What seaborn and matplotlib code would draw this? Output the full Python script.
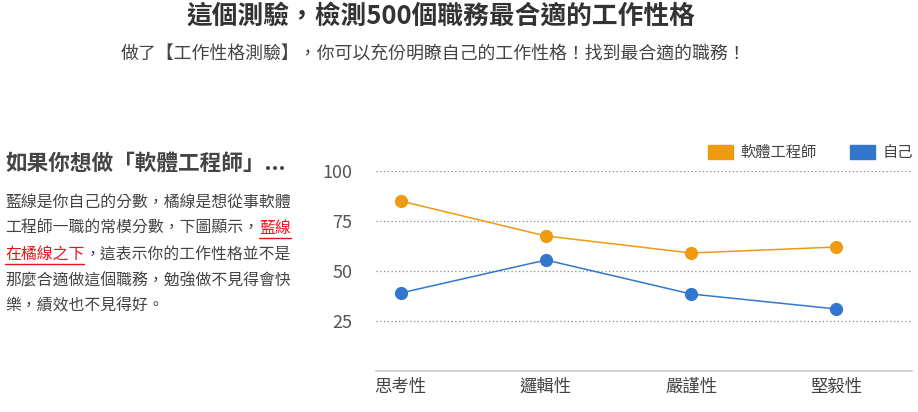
import numpy as np
import pandas as pd
import matplotlib
matplotlib.use('Agg')
import matplotlib.pyplot as plt
import seaborn as sns
from matplotlib.patches import Patch
from matplotlib.lines import Line2D

# data
traits = ['思考性', '邏輯性', '嚴謹性', '堅毅性']
engineer = [85, 67.5, 59, 62]
me = [39, 55.5, 38.5, 31]
series_names = ['軟體工程師', '自己']
yticks = [25, 50, 75, 100]

main_title = '這個測驗，檢測500個職務最合適的工作性格'
sub_title = '做了【工作性格測驗】，你可以充份明瞭自己的工作性格！找到最合適的職務！'
side_title = '如果你想做「軟體工程師」...'

ORANGE = '#ef9b10'
BLUE = '#3377cc'
RED = '#e8141c'
TXT = '#444444'

sns.set_theme(style='white')
plt.rcParams['font.family'] = ['Noto Sans CJK TC', 'DejaVu Sans']

df = pd.DataFrame({
    'trait': traits * 2,
    'score': engineer + me,
    'who': [series_names[0]] * 4 + [series_names[1]] * 4,
})

W, H = 918, 412
fig = plt.figure(figsize=(W / 100, H / 100), dpi=100)
ax = fig.add_axes([376 / W, 1 - 371 / H, (912 - 376) / W, (371 - 171) / H])

sns.lineplot(data=df, x='trait', y='score', hue='who', sort=False,
             palette=[ORANGE, BLUE], marker='o', markersize=9.5,
             markeredgewidth=0, linewidth=1.1, legend=False, ax=ax)
for ln in ax.lines:
    ln.set_clip_on(False)

ax.set_ylim(0, 100)
ax.set_xlim(-0.17, 3.52)
ax.set_yticks(yticks)
ax.set_yticklabels([str(v) for v in yticks])
ax.set_xlabel('')
ax.set_ylabel('')
for v in yticks:
    ax.axhline(v, color='#888888', linestyle=(0, (1, 2)), linewidth=0.9, zorder=0)
for s in ['top', 'right', 'left']:
    ax.spines[s].set_visible(False)
ax.spines['bottom'].set_color('#cccccc')
ax.spines['bottom'].set_linewidth(1.2)
ax.tick_params(axis='y', length=0, pad=17, labelsize=13, labelcolor='#555555')
ax.tick_params(axis='x', length=0, pad=5, labelsize=12.5, labelcolor='#444444')
for lab in ax.get_xticklabels():
    lab.set_fontweight('light')

handles = [Patch(color=ORANGE), Patch(color=BLUE)]
ax.legend(handles, series_names, loc='lower right', bbox_to_anchor=(1.013, 1.02),
          ncol=2, frameon=False, fontsize=11, handlelength=1.6, handleheight=1.05,
          handletextpad=0.5, columnspacing=2.2, borderaxespad=0, labelcolor='#444444')

# header texts
fig.text(441 / W, 1 - 16 / H, main_title, ha='center', va='center',
         fontsize=18.5, fontweight='bold', color='#333333')
fig.text(433 / W, 1 - 55 / H, sub_title, ha='center', va='center',
         fontsize=12.9, color=TXT)

# left description
fig.text(5 / W, 1 - 163 / H, side_title, ha='left', va='center',
         fontsize=15.6, fontweight='bold', color='#444444')

body = [
    [('藍線是你自己的分數，橘線是想從事軟體', TXT)],
    [('工程師一職的常模分數，下圖顯示，', TXT), ('藍線', RED)],
    [('在橘線之下', RED), ('，這表示你的工作性格並不是', TXT)],
    [('那麼合適做這個職務，勉強做不見得會快', TXT)],
    [('樂，績效也不見得好。', TXT)],
]
line_y = [202, 228, 254, 281, 306]

r = fig.canvas.get_renderer()
for parts, y in zip(body, line_y):
    x = 5
    for txt, col in parts:
        t = fig.text(x / W, 1 - y / H, txt, ha='left', va='center',
                     fontsize=11.4, color=col)
        bb = t.get_window_extent(renderer=r)
        if col == RED:
            uy = (bb.y0 - 1) / H
            fig.add_artist(Line2D([bb.x0 / W, bb.x1 / W], [uy, uy],
                                  color=RED, linewidth=1))
        x = bb.x1

fig.savefig('out.png', dpi=100)
